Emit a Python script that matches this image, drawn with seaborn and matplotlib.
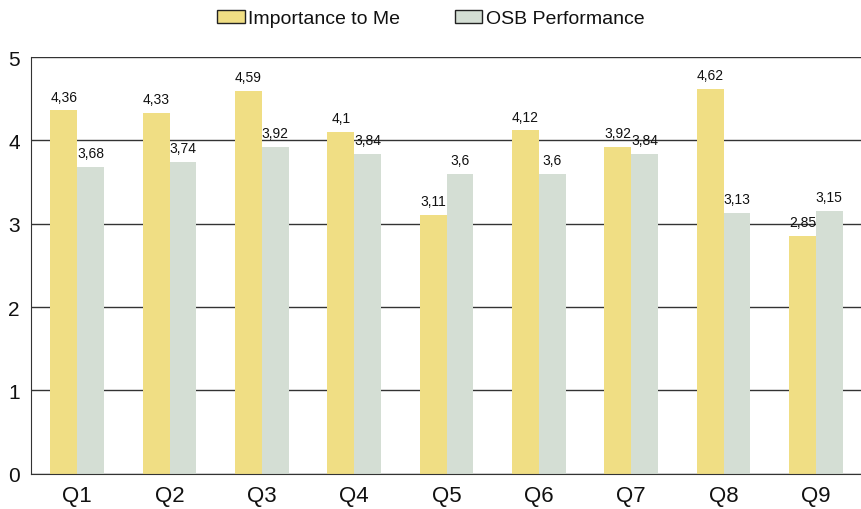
import pandas as pd
import matplotlib.pyplot as plt
import seaborn as sns

questions = ["Q1", "Q2", "Q3", "Q4", "Q5", "Q6", "Q7", "Q8", "Q9"]
importance = [4.36, 4.33, 4.59, 4.1, 3.11, 4.12, 3.92, 4.62, 2.85]
performance = [3.68, 3.74, 3.92, 3.84, 3.6, 3.6, 3.84, 3.13, 3.15]
series = ["Importance to Me", "OSB Performance"]
colors = ["#F0DE84", "#D4DED4"]

df = pd.DataFrame({
    "Question": questions * 2,
    "Score": importance + performance,
    "Series": [series[0]] * len(questions) + [series[1]] * len(questions),
})

sns.set_style("white")
plt.rcParams["font.family"] = ["Liberation Sans", "DejaVu Sans"]

fig = plt.figure(figsize=(8.62, 5.1), dpi=100)
ax = fig.add_axes([0.036, 0.069, 0.964, 0.817])

sns.barplot(data=df, x="Question", y="Score", hue="Series", palette=colors,
            width=0.58, gap=0, saturation=1, ax=ax, zorder=2, linewidth=0)

# value labels with comma decimals
for cont in ax.containers:
    labels = [f"{v:g}".replace(".", ",") for v in cont.datavalues]
    ax.bar_label(cont, labels=labels, padding=5, fontsize=10, color="#111111")

ax.set_ylim(0, 5)
ax.set_xlim(-0.5, 8.5)
ax.set_yticks([0, 1, 2, 3, 4, 5])
ax.yaxis.grid(True, color="#333333", linewidth=1, zorder=0)
ax.set_axisbelow(True)
for s in ["top", "right"]:
    ax.spines[s].set_visible(False)
ax.spines["left"].set_color("#333333")
ax.spines["bottom"].set_color("#333333")
ax.tick_params(axis="y", labelsize=15, length=0, pad=8, colors="#111111")
ax.tick_params(axis="x", labelsize=16, length=0, pad=8, colors="#111111")
ax.set_xlabel("")
ax.set_ylabel("")

handles, lbls = ax.get_legend_handles_labels()
for h in handles:
    h.set_edgecolor("#222222")
    h.set_linewidth(1)
ax.legend(handles, lbls, loc="upper center", bbox_to_anchor=(0.5, 1.012),
          bbox_transform=fig.transFigure, ncol=2, frameon=False, fontsize=14,
          handlelength=1.4, handleheight=0.6, handletextpad=0.2, columnspacing=2.8,
          labelcolor="#111111")

fig.savefig("out.png", dpi=100)
